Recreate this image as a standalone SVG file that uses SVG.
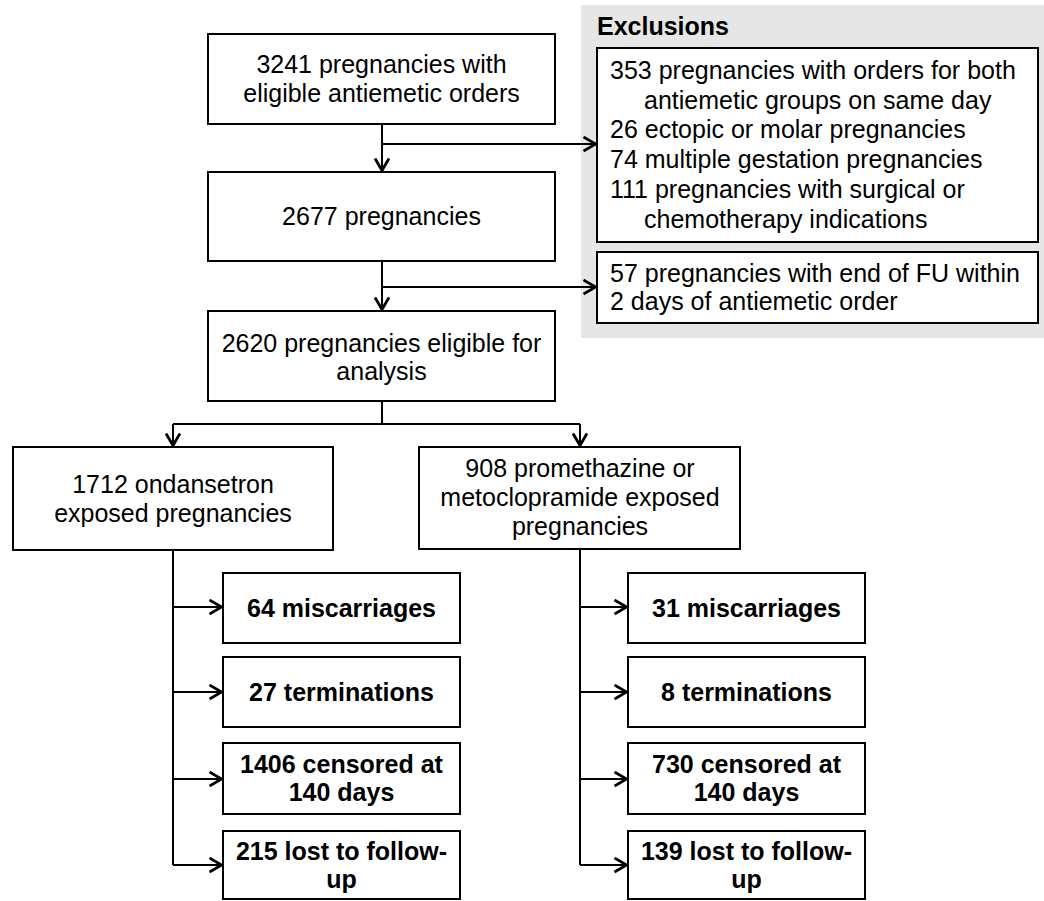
<svg xmlns="http://www.w3.org/2000/svg" width="1044" height="901" viewBox="0 0 1044 901">
  <style>
    .box { fill: #ffffff; stroke: #000000; stroke-width: 2; }
    .t { font-family: "Liberation Sans", Arial, sans-serif; font-size: 25px; fill: #000000; }
    .c { text-anchor: middle; }
    .b { font-weight: bold; }
    .edge { fill: none; stroke: #000000; stroke-width: 2; }
  </style>
  <defs>
    <marker id="arr" markerUnits="userSpaceOnUse" markerWidth="16" markerHeight="18" refX="13.5" refY="8" orient="auto">
      <path d="M1,1 L13,8 L1,15" fill="none" stroke="#000000" stroke-width="2.8"/>
    </marker>
  </defs>
  <rect width="1044" height="901" fill="#ffffff"/>

  <g id="exclusions-panel">
    <rect x="581" y="5" width="463" height="333" fill="#e6e6e6"/>
    <text class="t b" x="597" y="35">Exclusions</text>
  </g>

  <g id="excl1">
    <rect class="box" x="597" y="48" width="441" height="194"/>
    <text class="t" x="610" y="79">353 pregnancies with orders for both</text>
    <text class="t" x="644" y="109">antiemetic groups on same day</text>
    <text class="t" x="610" y="138">26 ectopic or molar pregnancies</text>
    <text class="t" x="610" y="168">74 multiple gestation pregnancies</text>
    <text class="t" x="610" y="198">111 pregnancies with surgical or</text>
    <text class="t" x="644" y="228">chemotherapy indications</text>
  </g>

  <g id="excl2">
    <rect class="box" x="597" y="252" width="441" height="71"/>
    <text class="t" x="610" y="282">57 pregnancies with end of FU within</text>
    <text class="t" x="610" y="310">2 days of antiemetic order</text>
  </g>

  <g id="n3241">
    <rect class="box" x="208" y="34" width="347" height="90"/>
    <text class="t c" x="381.5" y="73">3241 pregnancies with</text>
    <text class="t c" x="381.5" y="102">eligible antiemetic orders</text>
  </g>

  <g id="n2677">
    <rect class="box" x="208" y="172" width="347" height="89"/>
    <text class="t c" x="381.5" y="225">2677 pregnancies</text>
  </g>

  <g id="n2620">
    <rect class="box" x="208" y="311" width="347" height="90"/>
    <text class="t c" x="381.5" y="352">2620 pregnancies eligible for</text>
    <text class="t c" x="381.5" y="380">analysis</text>
  </g>

  <g id="n1712">
    <rect class="box" x="13" y="447" width="320" height="103"/>
    <text class="t c" x="173" y="493">1712 ondansetron</text>
    <text class="t c" x="173" y="522">exposed pregnancies</text>
  </g>

  <g id="n908">
    <rect class="box" x="419" y="447" width="321" height="102"/>
    <text class="t c" x="580" y="477">908 promethazine or</text>
    <text class="t c" x="580" y="506">metoclopramide exposed</text>
    <text class="t c" x="580" y="535">pregnancies</text>
  </g>

  <g id="o-mis">
    <rect class="box" x="223" y="573" width="237" height="70"/>
    <text class="t c b" x="341.5" y="616.5">64 miscarriages</text>
  </g>
  <g id="o-term">
    <rect class="box" x="223" y="657" width="237" height="70"/>
    <text class="t c b" x="341.5" y="700.5">27 terminations</text>
  </g>
  <g id="o-cens">
    <rect class="box" x="223" y="743" width="237" height="71"/>
    <text class="t c b" x="341.5" y="773">1406 censored at</text>
    <text class="t c b" x="341.5" y="801">140 days</text>
  </g>
  <g id="o-lost">
    <rect class="box" x="223" y="831" width="237" height="68"/>
    <text class="t c b" x="341.5" y="860">215 lost to follow-</text>
    <text class="t c b" x="341.5" y="888">up</text>
  </g>

  <g id="p-mis">
    <rect class="box" x="628" y="573" width="237" height="70"/>
    <text class="t c b" x="746.5" y="616.5">31 miscarriages</text>
  </g>
  <g id="p-term">
    <rect class="box" x="628" y="657" width="237" height="70"/>
    <text class="t c b" x="746.5" y="700.5">8 terminations</text>
  </g>
  <g id="p-cens">
    <rect class="box" x="628" y="743" width="237" height="71"/>
    <text class="t c b" x="746.5" y="773">730 censored at</text>
    <text class="t c b" x="746.5" y="801">140 days</text>
  </g>
  <g id="p-lost">
    <rect class="box" x="628" y="831" width="237" height="68"/>
    <text class="t c b" x="746.5" y="860">139 lost to follow-</text>
    <text class="t c b" x="746.5" y="888">up</text>
  </g>

  <g id="connectors">
    <line class="edge" x1="382" y1="124" x2="382" y2="171" marker-end="url(#arr)"/>
    <line class="edge" x1="382" y1="144" x2="596" y2="144" marker-end="url(#arr)"/>
    <line class="edge" x1="382" y1="261" x2="382" y2="310" marker-end="url(#arr)"/>
    <line class="edge" x1="382" y1="287" x2="596" y2="287" marker-end="url(#arr)"/>
    <polyline class="edge" points="382,401 382,424"/>
    <polyline class="edge" points="173,424 580,424"/>
    <line class="edge" x1="173" y1="424" x2="173" y2="446" marker-end="url(#arr)"/>
    <line class="edge" x1="580" y1="424" x2="580" y2="446" marker-end="url(#arr)"/>

    <polyline class="edge" points="173,550 173,865"/>
    <line class="edge" x1="173" y1="607" x2="222" y2="607" marker-end="url(#arr)"/>
    <line class="edge" x1="173" y1="692" x2="222" y2="692" marker-end="url(#arr)"/>
    <line class="edge" x1="173" y1="779" x2="222" y2="779" marker-end="url(#arr)"/>
    <line class="edge" x1="173" y1="865" x2="222" y2="865" marker-end="url(#arr)"/>

    <polyline class="edge" points="580,549 580,865"/>
    <line class="edge" x1="580" y1="607" x2="627" y2="607" marker-end="url(#arr)"/>
    <line class="edge" x1="580" y1="692" x2="627" y2="692" marker-end="url(#arr)"/>
    <line class="edge" x1="580" y1="779" x2="627" y2="779" marker-end="url(#arr)"/>
    <line class="edge" x1="580" y1="865" x2="627" y2="865" marker-end="url(#arr)"/>
  </g>
</svg>
